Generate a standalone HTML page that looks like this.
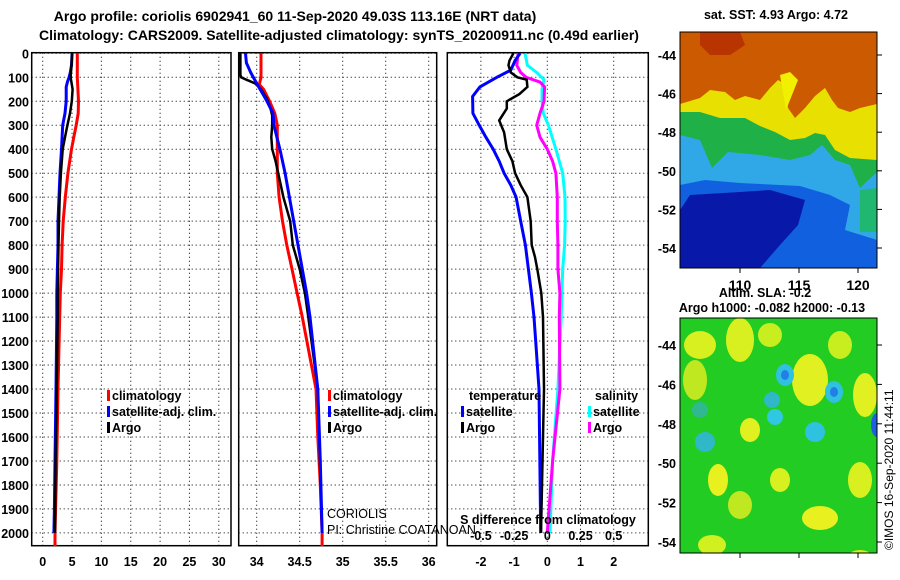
<!DOCTYPE html>
<html><head><meta charset="utf-8"><style>
html,body{margin:0;padding:0;background:#fff;}
svg{display:block;font-family:"Liberation Sans",Arial,sans-serif;}
.t{font-weight:bold;font-size:12.5px;fill:#000;}
.h{font-weight:bold;font-size:14px;fill:#000;}
</style></head><body>
<svg id="chart" width="900" height="580" viewBox="0 0 900 580" xmlns="http://www.w3.org/2000/svg">
<defs>
<clipPath id="clipSst"><rect x="680" y="32" width="197" height="236"/></clipPath>
<clipPath id="clipSla"><rect x="680" y="318" width="197" height="235"/></clipPath>
</defs>
<text class="h" x="295" y="21" text-anchor="middle">Argo profile: coriolis 6902941_60 11-Sep-2020 49.03S 113.16E (NRT data)</text>
<text class="h" x="339" y="40" text-anchor="middle">Climatology: CARS2009. Satellite-adjusted climatology: synTS_20200911.nc (0.49d earlier)</text>
<g id="plots"></g>
<g id="maps"></g>
</svg>
<script>
// ---- data ----
const depthTicks=[0,100,200,300,400,500,600,700,800,900,1000,1100,1200,1300,1400,1500,1600,1700,1800,1900,2000];
const tTicks=[0,5,10,15,20,25,30];
const sTicks=[34,34.5,35,35.5,36];
const dTicks=[-2,-1,0,1,2];
const sdTicks=[-0.5,-0.25,0,0.25,0.5];
const sdTickLabels=["-0.5","-0.25","0","0.25","0.5"];

const climTD=[0,100,200,250,300,350,400,500,600,700,800,900,1000,1100,1400,1700,2000,2055];
const climT=[5.9,5.9,6.1,6.05,5.7,5.3,4.9,4.3,3.85,3.5,3.3,3.2,3.0,2.9,2.6,2.4,2.1,2.1];
const satTD=[0,50,80,100,120,140,200,250,300,400,500,600,700,800,900,1000,1100,1400,1700,1900,2000];
const satT=[5.0,4.9,4.7,4.5,4.2,4.0,4.0,3.8,3.4,3.2,2.95,2.78,2.6,2.6,2.5,2.4,2.4,2.27,2.1,2.0,1.9];
const argoTD=[0,50,100,150,200,250,300,350,400,500,600,700,800,900,1000,1100,1400,1700,2000];
const argoT=[5.0,4.9,4.75,5.1,4.95,4.65,4.2,3.8,3.4,3.1,2.9,2.78,2.7,2.62,2.55,2.55,2.4,2.2,2.1];

const climSD=[0,100,130,150,200,250,300,400,500,600,700,800,900,1000,1100,1400,1600,1800,2000,2055];
const climS=[34.05,34.05,34.03,34.08,34.15,34.21,34.24,34.24,34.24,34.26,34.30,34.35,34.41,34.47,34.53,34.69,34.71,34.74,34.76,34.76];
const satSD=[0,40,80,100,150,200,250,300,400,500,600,700,800,900,1000,1100,1400,1700,2000];
const satS=[33.87,33.88,33.93,33.96,34.04,34.12,34.19,34.2,34.27,34.33,34.38,34.43,34.48,34.53,34.58,34.62,34.71,34.74,34.76];
const argoSD=[0,90,100,110,125,150,190,230,260,300,350,400,450,500,600,700,800,900,950,1000,1100,1400,2000];
const argoS=[33.81,33.81,33.82,33.88,33.98,34.05,34.12,34.16,34.18,34.18,34.17,34.18,34.22,34.25,34.31,34.39,34.42,34.5,34.53,34.56,34.6,34.71,34.76];

const dSatTD=[0,30,70,100,140,180,250,300,350,400,450,500,550,600,700,800,900,1000,1100,1200,1400,2000];
const dSatT=[-0.82,-0.97,-1.1,-1.52,-2.03,-2.25,-2.24,-2.05,-1.85,-1.63,-1.45,-1.3,-1.1,-0.94,-0.8,-0.66,-0.57,-0.48,-0.4,-0.35,-0.25,-0.2];
const dArgoTD=[0,30,50,80,100,110,140,170,200,230,280,330,400,450,500,550,600,700,800,850,900,1000,1100,1400,2000];
const dArgoT=[-1.02,-1.14,-1.17,-1.1,-0.9,-0.62,-0.6,-0.84,-1.22,-1.22,-1.45,-1.3,-1.22,-1.05,-0.97,-0.8,-0.6,-0.5,-0.47,-0.37,-0.3,-0.18,-0.13,-0.1,-0.19];
const dSatSD=[0,50,80,110,150,200,250,300,400,500,600,700,800,900,1000,1100,1400,1700,2000];
const dSatS=[-0.168,-0.15,-0.08,-0.025,-0.04,-0.04,-0.03,0.008,0.065,0.116,0.133,0.135,0.13,0.116,0.11,0.105,0.08,0.04,0.02];
const dArgoSD=[0,50,80,100,120,140,200,250,300,350,400,450,500,600,700,800,900,1000,1100,1400,1700,2000];
const dArgoS=[-0.22,-0.23,-0.2,-0.16,-0.055,-0.02,-0.025,-0.055,-0.08,-0.055,0.0,0.04,0.065,0.075,0.075,0.08,0.08,0.095,0.09,0.095,0.04,0.0];

const NS="http://www.w3.org/2000/svg";
const plots=document.getElementById('plots');
function el(tag,attrs,parent,txt){const e=document.createElementNS(NS,tag);for(const k in attrs)e.setAttribute(k,attrs[k]);if(txt!==undefined)e.textContent=txt;(parent||plots).appendChild(e);return e;}
const TOP=52.7,BOT=545.7;
function yD(d){return 53.3+d*0.2398;}
function xT(v){return 42.7+v*5.87;}
function xS(v){return 256.7+(v-34)*86;}
function xDT(v){return 547.3+v*33.2;}
function xDS(v){return 547.3+v*132.8;}
const panels=[{l:31.7,r:231,ticks:tTicks,fx:xT,lab:t=>String(t),name:'temperature-panel'},
{l:238.7,r:436.7,ticks:sTicks,fx:xS,lab:t=>String(t),name:'salinity-panel'},
{l:447.3,r:648.3,ticks:dTicks,fx:xDT,lab:t=>String(t),name:'difference-panel'}];
panels.forEach(p=>{
 const g=el('g',{});
 
 
 depthTicks.forEach(d=>{const ln=el('line',{x1:p.l,x2:p.r,y1:yD(d),y2:yD(d),stroke:'#000','stroke-width':1,'stroke-dasharray':'1 3'},g);
  });
 p.ticks.forEach(t=>{const x=p.fx(t);const ln=el('line',{x1:x,x2:x,y1:TOP,y2:BOT,stroke:'#000','stroke-width':1,'stroke-dasharray':'1 3'},g);
  
  const tx=el('text',{class:'t',x:x,y:566,'text-anchor':'middle'},g,p.lab(t));
  });
 const r=el('rect',{x:p.l,y:TOP,width:p.r-p.l,height:BOT-TOP,fill:'none',stroke:'#000','stroke-width':1.5},g);
 
});
depthTicks.forEach(d=>{const tx=el('text',{class:'t',x:29,y:yD(d)+5,'text-anchor':'end'},plots,String(d));
 });
function line(ds,vs,fx,color,name,w){
 const pts=ds.map((d,i)=>fx(vs[i]).toFixed(1)+','+yD(d).toFixed(1)).join(' ');
 const pl=el('polyline',{points:pts,fill:'none',stroke:color,'stroke-width':w||3,'stroke-linejoin':'miter'});
 
 
}
line(climTD,climT,xT,'#ff0000','temp-climatology-line');
line(satTD,satT,xT,'#0000ff','temp-satellite-line');
line(argoTD,argoT,xT,'#000000','temp-argo-line',2.5);
line(climSD,climS,xS,'#ff0000','sal-climatology-line');
line(argoSD,argoS,xS,'#000000','sal-argo-line',2.5);
line(satSD,satS,xS,'#0000ff','sal-satellite-line');
line(dSatSD,dSatS,xDS,'#00ffff','sdiff-satellite-line');
line(dArgoSD,dArgoS,xDS,'#ff00ff','sdiff-argo-line');
line(dSatTD,dSatT,xDT,'#0000ff','tdiff-satellite-line');
line(dArgoTD,dArgoT,xDT,'#000000','tdiff-argo-line',2.5);
function leg(x,y,color,txt,name){const g=el('g',{});
 el('rect',{x:x,y:y-10,width:3,height:11,fill:color},g);el('text',{class:'t',x:x+5,y:y},g,txt);}
leg(107,400,'#ff0000','climatology','legend-climatology');
leg(107,416,'#0000ff','satellite-adj. clim.','legend-satellite-adj');
leg(107,432,'#000000','Argo','legend-argo');
leg(328,400,'#ff0000','climatology','legend2-climatology');
leg(328,416,'#0000ff','satellite-adj. clim.','legend2-satellite-adj');
leg(328,432,'#000000','Argo','legend2-argo');
const tt=el('text',{class:'t',x:469,y:400},plots,'temperature');
const st=el('text',{class:'t',x:595,y:400},plots,'salinity');
leg(461,416,'#0000ff','satellite','legend-temp-satellite');
leg(461,432,'#000000','Argo','legend-temp-argo');
leg(588,416,'#00ffff','satellite','legend-sal-satellite');
leg(588,432,'#ff00ff','Argo','legend-sal-argo');
const c1=el('text',{x:327,y:518,'font-size':'12.5px'},plots,'CORIOLIS');
const c2=el('text',{x:327,y:534,'font-size':'12.5px'},plots,'PI: Christine COATANOAN');
const sdl=el('text',{class:'t',x:548,y:524,'text-anchor':'middle'},plots,'S difference from climatology');
sdTicks.forEach((t,i)=>{const tx=el('text',{class:'t',x:xDS(t),y:540,'text-anchor':'middle'},plots,sdTickLabels[i]);
 });

// ---- maps ----
const maps=document.getElementById('maps');
function m(tag,attrs,txt,parent){return el(tag,attrs,parent||maps,txt);}
const gS=m('g',{'clip-path':'url(#clipSst)'});

const gL=m('g',{'clip-path':'url(#clipSla)'});

function poly(pts,fill,name){const p=m('polygon',{points:pts,fill:fill},undefined,gS);}
m('rect',{x:680,y:32,width:197,height:236,fill:'#cc5a00'},undefined,gS);
poly('700,32 740,32 745,45 730,55 710,55 700,45','#b83400','sst-warm-patch');
poly('680,104 700,98 710,90 725,92 735,100 745,96 760,100 770,88 778,80 785,84 788,108 795,118 805,108 815,96 825,88 832,100 838,108 850,112 860,108 877,104 877,200 680,200','#e8e000','sst-yellow-band');
poly('780,75 790,72 798,80 790,100 786,110','#f0f000','sst-yellow-tongue');
poly('680,112 700,112 720,118 745,118 760,126 775,132 790,140 805,138 815,133 825,135 835,150 850,158 877,160 877,268 680,268','#20b048','sst-green-band');
poly('680,135 700,140 712,168 728,152 760,155 790,160 810,155 822,145 835,160 850,165 860,188 877,172 877,268 680,268','#30a8e8','sst-light-blue');
poly('860,190 877,188 877,232 860,232','#20b870','sst-teal-patch');
poly('680,185 705,180 740,183 800,186 830,195 850,205 845,230 877,240 877,268 680,268','#1060e0','sst-blue');
poly('690,195 740,192 770,190 805,200 798,225 780,245 760,268 680,268 680,210','#0818a8','sst-dark-blue');
m('rect',{x:680,y:32,width:197,height:236,fill:'none',stroke:'#000','stroke-width':1});
m('rect',{x:680,y:318,width:197,height:235,fill:'#22cc22'},undefined,gL);
const blobs=[[700,345,16,14,'#d8f020'],[740,340,14,22,'#d8f020'],[770,335,12,12,'#c8ee20'],[695,380,12,20,'#c0e820'],[840,345,12,14,'#c8ee20'],[810,380,18,26,'#e0f020'],[865,395,12,22,'#e0f020'],[750,430,10,12,'#e0f020'],[780,480,10,12,'#d8f020'],[718,480,10,16,'#e8f020'],[820,518,18,12,'#e8f020'],[712,545,14,10,'#d0f020'],[860,560,14,10,'#d0f020'],[740,505,12,14,'#c0e820'],[860,480,12,18,'#d8f020']];
blobs.forEach(b=>{const e=m('ellipse',{cx:b[0],cy:b[1],rx:b[2],ry:b[3],fill:b[4]},undefined,gL);});
const spots=[[785,375,9,11,'#30c0e0'],[785,375,4,5,'#2080e8'],[834,392,9,11,'#30c0e0'],[834,392,4,5,'#2080e8'],[772,400,8,8,'#30b8c8'],[815,432,10,10,'#30c0e0'],[775,417,8,8,'#30c8e0'],[705,442,10,10,'#30b8c8'],[877,425,6,12,'#2060e0'],[700,410,8,8,'#30b890']];
spots.forEach(b=>{const e=m('ellipse',{cx:b[0],cy:b[1],rx:b[2],ry:b[3],fill:b[4]},undefined,gL);});
m('rect',{x:680,y:318,width:197,height:235,fill:'none',stroke:'#000','stroke-width':1});
const latL=[-44,-46,-48,-50,-52,-54];
latL.forEach(l=>{
 const y1=55+(-44-l)*19.3; const t1=m('text',{class:'t',x:676,y:y1+5,'text-anchor':'end'},String(l));
 m('line',{x1:877,x2:882,y1:y1,y2:y1,stroke:'#000'});
 const y2=345+(-44-l)*19.7; const t2=m('text',{class:'t',x:676,y:y2+5,'text-anchor':'end'},String(l));
 m('line',{x1:877,x2:882,y1:y2,y2:y2,stroke:'#000'});
});
[110,115,120].forEach(lo=>{const x=740+(lo-110)*11.8;const t=m('text',{class:'h',x:x,y:290,'text-anchor':'middle'},String(lo));
 m('line',{x1:x,x2:x,y1:268,y2:273,stroke:'#000'});m('line',{x1:x,x2:x,y1:553,y2:558,stroke:'#000'});});
const a=m('text',{class:'t',x:776,y:19,'text-anchor':'middle'},'sat. SST: 4.93 Argo: 4.72');
const b=m('text',{class:'t',x:765,y:297,'text-anchor':'middle'},'Altim. SLA: -0.2');
const c=m('text',{class:'t',x:772,y:312,'text-anchor':'middle'},'Argo h1000: -0.082 h2000: -0.13');
const d=m('text',{x:0,y:0,'font-size':'12px',transform:'translate(893,550) rotate(-90)'},'©IMOS 16-Sep-2020 11:44:11');
</script>
</body></html>
